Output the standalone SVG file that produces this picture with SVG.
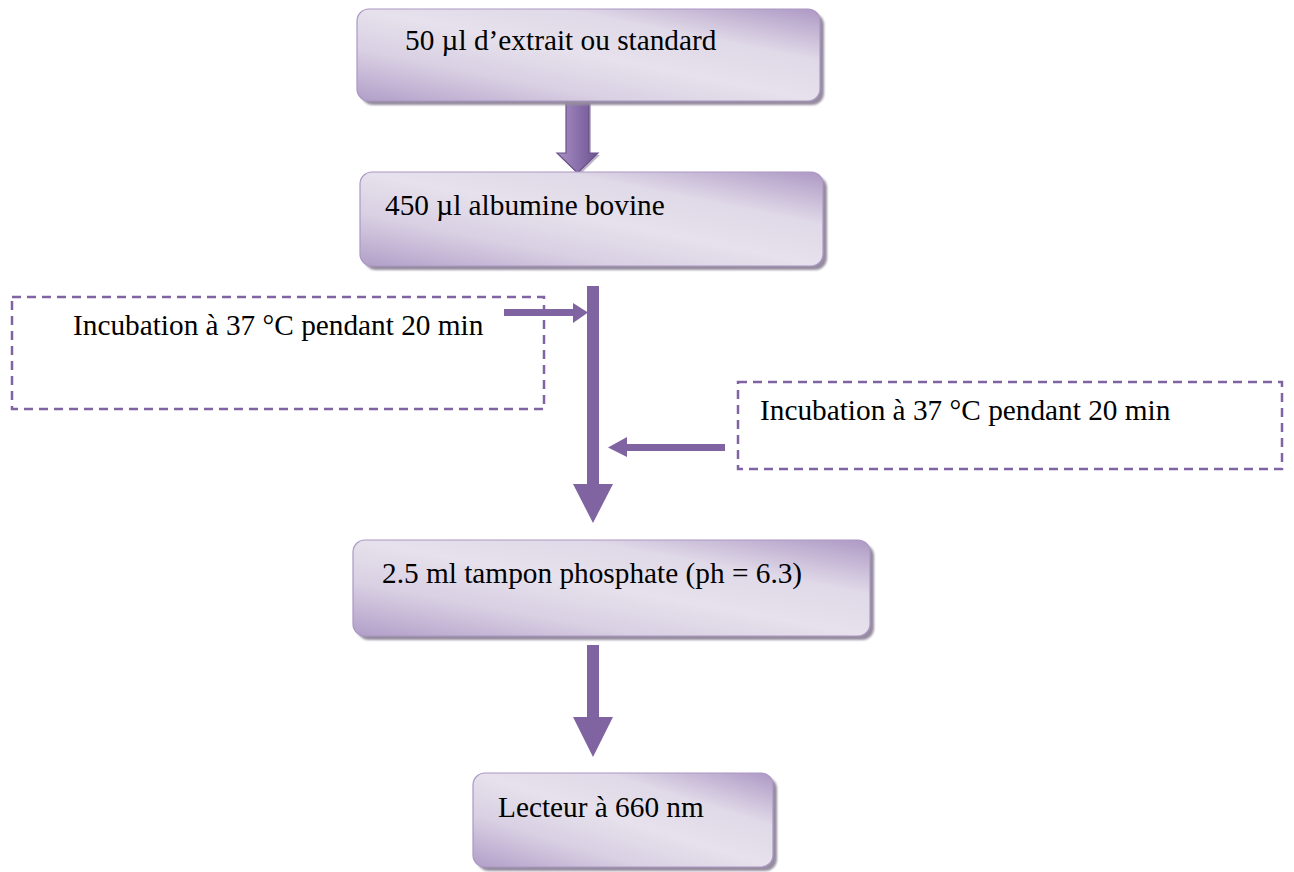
<svg xmlns="http://www.w3.org/2000/svg" width="1294" height="872" viewBox="0 0 1294 872">
  <style>
    .lbl { font-family: "Liberation Serif", "Times New Roman", serif; font-size: 29.3px; fill: #000; }
    .step { fill: url(#stepFill); stroke: #ab98c4; stroke-width: 1.2; }
    .shadow { fill: #958c9f; filter: url(#soft); }
    .note { fill: none; stroke: #8064a2; stroke-width: 2.5; stroke-dasharray: 9 6; }
    .flow { fill: #8064a2; }
  </style>
  <defs>
    <linearGradient id="stepFill" x1="0" y1="1" x2="1" y2="0">
      <stop offset="0" stop-color="#b19ec8"/>
      <stop offset="0.28" stop-color="#d9d0e3"/>
      <stop offset="0.5" stop-color="#e6e1ec"/>
      <stop offset="0.72" stop-color="#e0d9e8"/>
      <stop offset="1" stop-color="#ad98c4"/>
    </linearGradient>
    <linearGradient id="blockArrow" x1="0" y1="0" x2="1" y2="0">
      <stop offset="0" stop-color="#a892c3"/>
      <stop offset="0.45" stop-color="#8e74ae"/>
      <stop offset="1" stop-color="#6c5390"/>
    </linearGradient>
    <filter id="soft" x="-5%" y="-10%" width="110%" height="120%">
      <feGaussianBlur stdDeviation="1.2"/>
    </filter>
  </defs>

  <!-- connectors -->
  <g id="connectors">
    <!-- shaded block arrow between the first two steps -->
    <polygon points="566,99 589,99 589,153 598,153 577.5,173 557,153 566,153" fill="#6e5a84" opacity="0.45" transform="translate(2,2)"/>
    <polygon points="566,99 589,99 589,153 598,153 577.5,173 557,153 566,153" fill="url(#blockArrow)" stroke="#6a528a" stroke-width="1.2"/>
    <!-- main flow arrow after the albumin step -->
    <polygon class="flow" points="587,286 599,286 599,484 613,484 593,523 573,484 587,484"/>
    <!-- incubation inlet from the left -->
    <polygon class="flow" points="504,309 573,309 573,303 588,312.5 573,323 573,316 504,316"/>
    <!-- incubation inlet from the right -->
    <polygon class="flow" points="725,444 627,444 627,437 608,447.5 627,457 627,451 725,451"/>
    <!-- arrow down to the reader -->
    <polygon class="flow" points="587,645 599,645 599,717 613,717 593,757 573,717 587,717"/>
  </g>

  <g id="step-extrait">
    <rect class="shadow" x="361" y="13" width="463" height="92" rx="12"/>
    <rect class="step" x="357" y="9" width="463" height="92" rx="12"/>
    <text class="lbl" x="405" y="50">50 µl d’extrait ou standard</text>
  </g>

  <g id="step-albumine">
    <rect class="shadow" x="364" y="176" width="463" height="94" rx="12"/>
    <rect class="step" x="360" y="172" width="463" height="94" rx="12"/>
    <text class="lbl" x="385" y="215">450 µl albumine bovine</text>
  </g>

  <g id="note-incubation-1">
    <rect class="note" x="12" y="297" width="532" height="112"/>
    <text class="lbl" x="73" y="335">Incubation à 37 °C pendant 20 min</text>
  </g>

  <g id="note-incubation-2">
    <rect class="note" x="738" y="382" width="544" height="87"/>
    <text class="lbl" x="760" y="420">Incubation à 37 °C pendant 20 min</text>
  </g>

  <g id="step-tampon">
    <rect class="shadow" x="357" y="544" width="517" height="96" rx="12"/>
    <rect class="step" x="353" y="540" width="517" height="96" rx="12"/>
    <text class="lbl" x="382" y="583">2.5 ml tampon phosphate (ph = 6.3)</text>
  </g>

  <g id="step-lecteur">
    <rect class="shadow" x="477" y="777" width="300" height="94" rx="12"/>
    <rect class="step" x="473" y="773" width="300" height="94" rx="12"/>
    <text class="lbl" x="498" y="817">Lecteur à 660 nm</text>
  </g>
</svg>
